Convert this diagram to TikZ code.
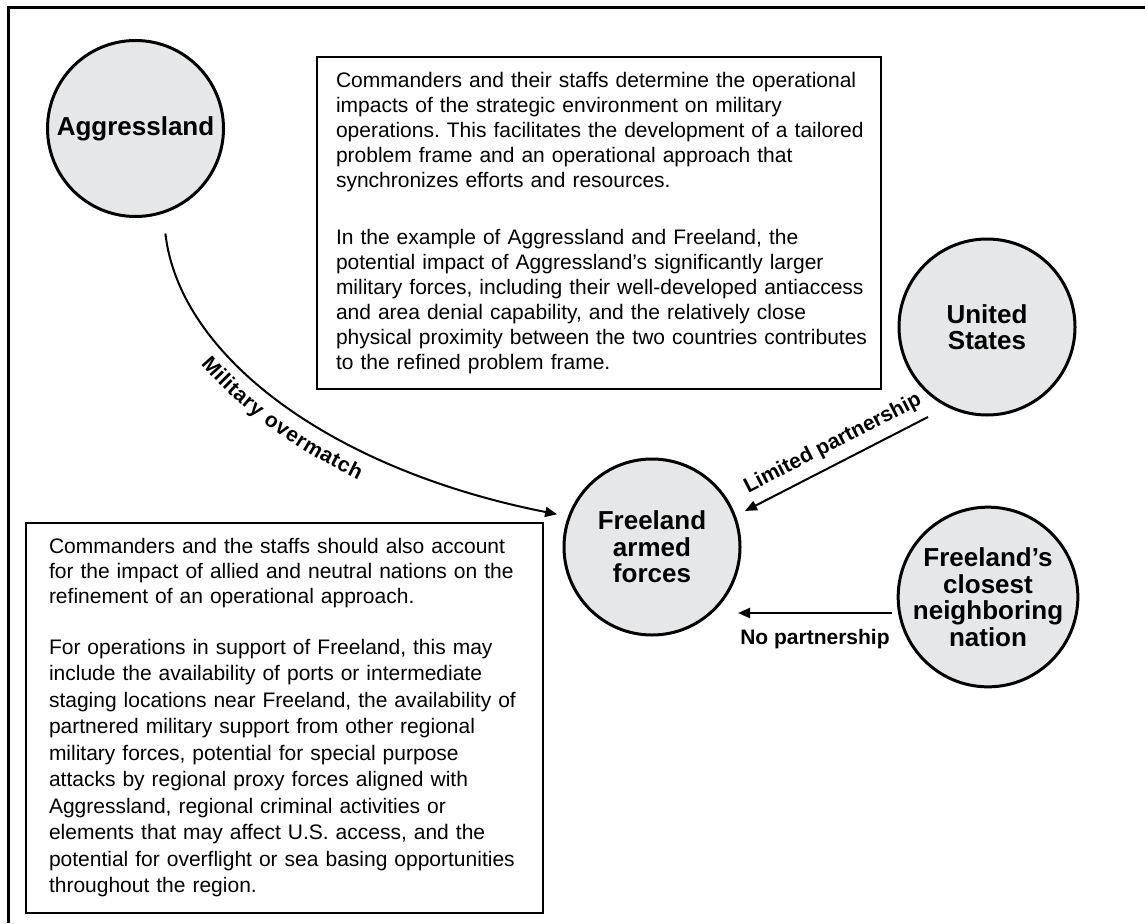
\documentclass[tikz,border=0pt]{standalone}
\usepackage{fontspec}
\setmainfont{Liberation Sans}
\usetikzlibrary{arrows.meta,decorations.text,calc}

\definecolor{nodefill}{HTML}{E6E7E8}
\newcommand\linkfont{\fontsize{21}{25}\selectfont\bfseries}
\frenchspacing

\begin{document}
\begin{tikzpicture}[x=1pt,y=1pt,
  actor/.style={circle, draw=black, line width=3pt, fill=nodefill,
    minimum size=176pt, inner sep=0pt, align=center,
    font=\fontsize{26}{26.5}\selectfont\bfseries},
  notebox/.style={draw=black, line width=2pt, anchor=north west,
    align=left, inner ysep=0pt, font=\fontsize{21}{25}\selectfont},
  link/.style={line width=2pt, -{Triangle[length=12pt,width=10pt]}},
  linklabel/.style={font=\linkfont, inner sep=3pt},
]
\useasboundingbox (0,0) rectangle (1145,-923);

% outer frame
\draw[line width=3pt] (8,-923) -- (8,-8) -- (1145,-8);

% actors
\node[actor] (agg) at (135.5,-128.5) {Aggressland};
\node[actor] (fl)  at (652,-547) {Freeland\\armed\\forces};
\node[actor] (us)  at (987,-327) {United\\States};
\node[actor] (nb)  at (988,-597) {Freeland’s\\closest\\neighboring\\nation};

% explanatory notes
\node[notebox, text width=526pt, inner xsep=19pt, minimum height=332pt] (topnote) at (316,-56) {%
\begin{tabular}{@{}l@{}}
Commanders and their staffs determine the operational\\
impacts of the strategic environment on military\\
operations. This facilitates the development of a tailored\\
problem frame and an operational approach that\\
synchronizes efforts and resources.\\[32pt]
In the example of Aggressland and Freeland, the\\
potential impact of Aggressland’s significantly larger\\
military forces, including their well-developed antiaccess\\
and area denial capability, and the relatively close\\
physical proximity between the two countries contributes\\
to the refined problem frame.
\end{tabular}};

\node[notebox, text width=471pt, inner xsep=23pt, minimum height=390pt] (botnote) at (25,-522) {%
\begin{tabular}{@{}l@{}}
Commanders and the staffs should also account\\
for the impact of allied and neutral nations on the\\
refinement of an operational approach.\\[26pt]
For operations in support of Freeland, this may\\[1.5pt]
include the availability of ports or intermediate\\[1.5pt]
staging locations near Freeland, the availability of\\[1.5pt]
partnered military support from other regional\\[1.5pt]
military forces, potential for special purpose\\[1.5pt]
attacks by regional proxy forces aligned with\\[1.5pt]
Aggressland, regional criminal activities or\\[1.5pt]
elements that may affect U.S. access, and the\\[1.5pt]
potential for overflight or sea basing opportunities\\[1.5pt]
throughout the region.
\end{tabular}};

% relationships
\draw[link, shorten <=20pt, shorten >=11pt,
  postaction={decorate, decoration={text along path,
    text={|\linkfont|Military overmatch}, raise=-29pt,
    text align={left indent=146pt}}}]
  (agg.-72) .. controls +(16,-142) and +(-238,47) .. (fl.160);

\draw[link] ($(us.center)+(-59,-90)$) --
  node[linklabel, sloped, above=6pt, pos=0.47] {Limited partnership}
  ($(fl.center)+(93,36)$);

\draw[link] ($(nb.center)+(-96,-16)$) --
  node[linklabel, below=12pt] {No partnership}
  ($(fl.center)+(86,-66)$);
\end{tikzpicture}
\end{document}
